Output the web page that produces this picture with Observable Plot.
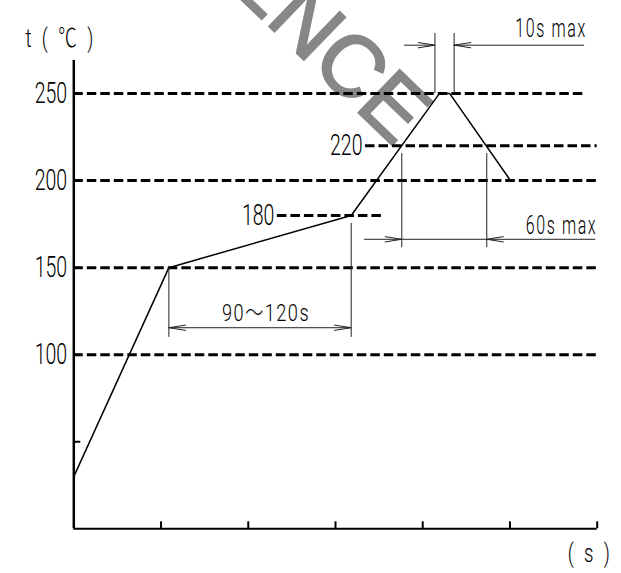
<!DOCTYPE html>
<html><head><meta charset="utf-8">
<script src="https://cdn.jsdelivr.net/npm/d3@7"></script>
<script src="https://cdn.jsdelivr.net/npm/@observablehq/plot@0.6"></script>
<style>html,body{margin:0;padding:0;background:#fff;overflow:hidden}#chart svg{display:block}</style>
</head><body><div id="chart"></div>
<script>
// Reflow temperature profile (time in s, temperature in °C)
const profileTime = [0, 54.5, 159, 209.5, 215.5, 250.3];
const profileTemp = [30, 150, 180, 250, 250, 200];

// Dashed reference levels
const levelTemp  = [250, 220, 200, 180, 150, 100];
const levelStart = [0, 167.2, 0, 116.7, 0, 0];
const levelEnd   = [292.8, 300, 300, 177, 300, 300];

// Axes
const xTicks = [50, 100, 150, 200, 250, 300];
const yTicks = [50, 100, 150, 200, 250];
const yLabelValues = [100, 150, 200, 250];
const levelLabels = ["220", "180"];
const levelLabelTemp = [220, 180];
const levelLabelTime = [167.2, 116.7];
const yUnit = "t ( ℃ )";
const xUnit = "( s )";

// Dimension guide lines (vertical)
const guideTime = [54.5, 159, 188, 236.7, 207, 218];
const guideFrom = [150, 175.4, 215.5, 215.5, 250, 250];
const guideTo   = [110, 110, 161.5, 161.5, 284.5, 284.5];

// Dimension shafts (horizontal)
const shaftFrom = [54.5, 166.7, 189.6, 218];
const shaftTo   = [159, 299.2, 207, 292.8];
const shaftTemp = [115.5, 166.3, 277.8, 277.8];

// Arrow tips
const tipRightTime = [159, 188, 207];
const tipRightTemp = [115.5, 166.3, 277.8];
const tipLeftTime  = [54.5, 236.7, 218];
const tipLeftTemp  = [115.5, 166.3, 277.8];

// Notes
const midNoteText = ["90～120s"];
const midNoteTime = [110.2];
const midNoteTemp = [119.3];
const endNoteText = ["60s max", "10s max"];
const endNoteTime = [299.1, 293.1];
const endNoteTemp = [169.1, 282.5];

// Watermark
const watermarkText = ["REFERENCE"];
const watermarkTime = [195];
const watermarkTemp = [230.3];

const headRight = {draw(ctx) { ctx.moveTo(-17, -2.7); ctx.lineTo(0, 0); ctx.lineTo(-17, 2.7); }};
const headLeft  = {draw(ctx) { ctx.moveTo(17, -2.7); ctx.lineTo(0, 0); ctx.lineTo(17, 2.7); }};

const idx = (a) => d3.range(a.length);
const FONT = "Roboto, 'Noto Sans CJK JP', 'Liberation Sans', sans-serif";
const ink = "#000";
const thin = "#222";

const chart = Plot.plot({
  width: 621,
  height: 573,
  marginLeft: 73.3,
  marginRight: 24.3,
  marginTop: 60,
  marginBottom: 44.7,
  x: {domain: [0, 300], axis: null},
  y: {domain: [0, 269], axis: null},
  style: {background: "#fff"},
  marks: [
    Plot.text(idx(watermarkText), {
      x: i => watermarkTime[i], y: i => watermarkTemp[i], text: i => watermarkText[i],
      rotate: 44, textAnchor: "end", lineAnchor: "middle",
      fontSize: 86, fontFamily: "'Liberation Sans', Arial, sans-serif",
      fill: "#878787", stroke: "#878787", strokeWidth: 2.2, strokeLinejoin: "miter"
    }),
    Plot.ruleY(idx(levelTemp), {
      y: i => levelTemp[i], x1: i => levelStart[i], x2: i => levelEnd[i],
      stroke: ink, strokeWidth: 3, strokeDasharray: "9.5,4"
    }),
    Plot.ruleX([0], {stroke: ink, strokeWidth: 2.5}),
    Plot.ruleY([0], {stroke: ink, strokeWidth: 2}),
    Plot.ruleX(xTicks, {x: d => d, y1: 0, y2: 4, stroke: ink, strokeWidth: 2}),
    Plot.ruleY(yTicks, {y: d => d, x1: 0, x2: 4, stroke: ink, strokeWidth: 2}),
    Plot.line(idx(profileTime), {
      x: i => profileTime[i], y: i => profileTemp[i],
      stroke: ink, strokeWidth: 1.5, strokeLinejoin: "round"
    }),
    Plot.ruleX(idx(guideTime), {
      x: i => guideTime[i], y1: i => guideFrom[i], y2: i => guideTo[i],
      stroke: thin, strokeWidth: 1
    }),
    Plot.ruleY(idx(shaftTemp), {
      y: i => shaftTemp[i], x1: i => shaftFrom[i], x2: i => shaftTo[i],
      stroke: thin, strokeWidth: 1
    }),
    Plot.dot(idx(tipRightTime), {
      x: i => tipRightTime[i], y: i => tipRightTemp[i], symbol: headRight,
      fill: "none", stroke: thin, strokeWidth: 1, r: 5
    }),
    Plot.dot(idx(tipLeftTime), {
      x: i => tipLeftTime[i], y: i => tipLeftTemp[i], symbol: headLeft,
      fill: "none", stroke: thin, strokeWidth: 1, r: 5
    }),
    Plot.text(yLabelValues, {
      x: 0, y: d => d, text: d => String(d), textAnchor: "end", dx: -6.6,
      fontSize: 30, fontFamily: FONT, fontWeight: 300, fill: ink
    }),
    Plot.text(idx(levelLabels), {
      x: i => levelLabelTime[i], y: i => levelLabelTemp[i], text: i => levelLabels[i],
      textAnchor: "end", dx: -3,
      fontSize: 30, fontFamily: FONT, fontWeight: 300, fill: ink
    }),
    Plot.text(idx(midNoteText), {
      x: i => midNoteTime[i], y: i => midNoteTemp[i], text: i => midNoteText[i],
      textAnchor: "middle", lineAnchor: "bottom",
      fontSize: 24, fontFamily: FONT, fontWeight: 300, fill: ink
    }),
    Plot.text(idx(endNoteText), {
      x: i => endNoteTime[i], y: i => endNoteTemp[i], text: i => endNoteText[i],
      textAnchor: "end", lineAnchor: "bottom", dx: 1.6,
      fontSize: 25, fontFamily: FONT, fontWeight: 300, fill: ink
    }),
    Plot.text([yUnit], {
      frameAnchor: "top-left", textAnchor: "start", lineAnchor: "bottom", dx: -48.3, dy: -14,
      fontSize: 26, fontFamily: FONT, fontWeight: 300, fill: ink
    }),
    Plot.text([xUnit], {
      frameAnchor: "bottom-right", textAnchor: "end", lineAnchor: "bottom", dx: 15.6, dy: 33,
      fontSize: 26, fontFamily: FONT, fontWeight: 300, fill: ink
    })
  ]
});

// Condensed drafting-style lettering: squeeze text horizontally around its anchor
const condensed = {30: [0.65, 0], 25: [0.64, 2.5], 24: [0.755, 2], 26: [0.72, 4]};
chart.querySelectorAll("g[aria-label='text']").forEach(g => {
  const s = condensed[+g.getAttribute("font-size")];
  if (!s) return;
  if (s[1]) g.setAttribute("letter-spacing", s[1]);
  g.querySelectorAll("text").forEach(t => {
    const tr = t.getAttribute("transform") || "";
    t.setAttribute("transform", `${tr} scale(${s[0]},1)`);
  });
});

document.getElementById("chart").append(chart);
</script>
</body></html>
